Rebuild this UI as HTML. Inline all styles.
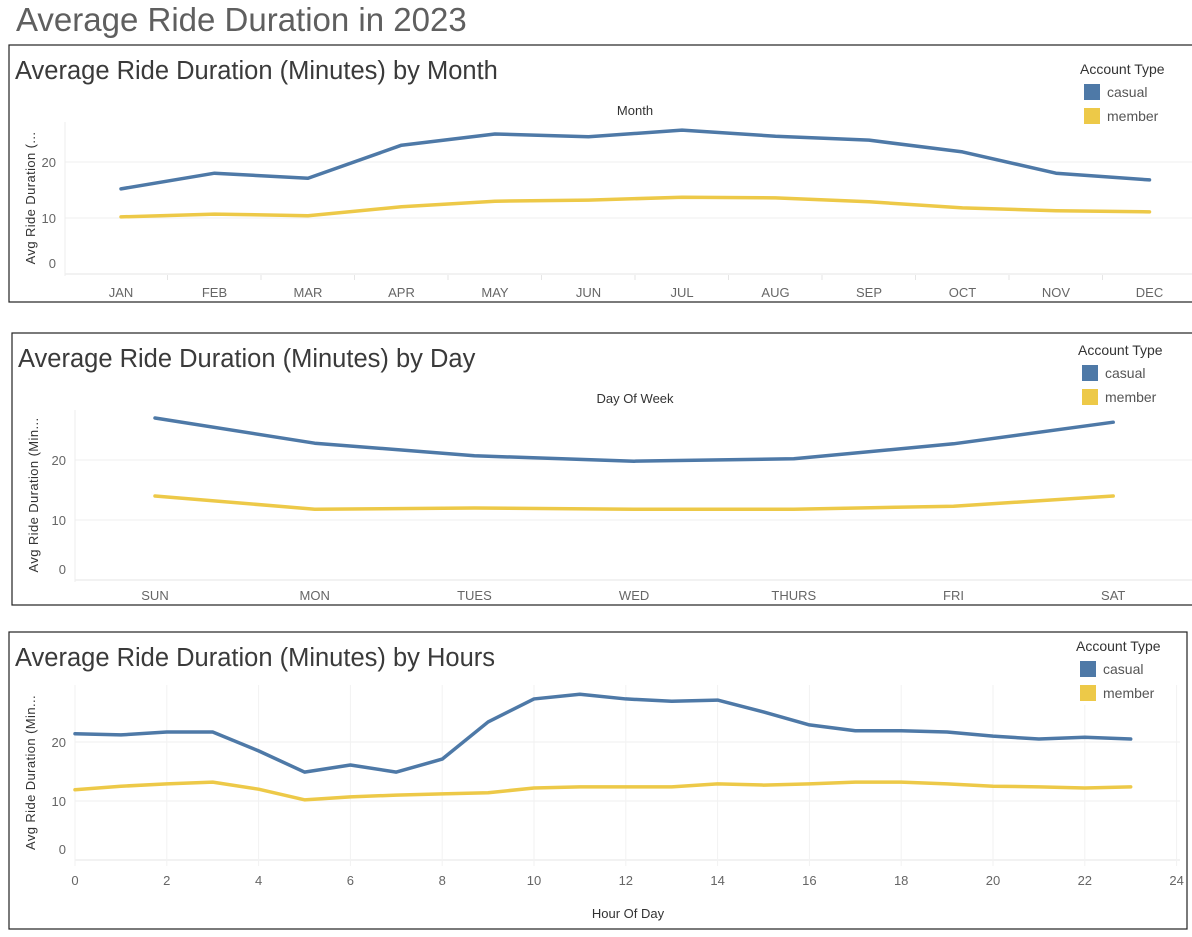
<!DOCTYPE html>
<html><head><meta charset="utf-8"><style>
html,body{margin:0;padding:0;background:#fff;width:1192px;height:937px;overflow:hidden}
svg{display:block;font-family:"Liberation Sans",sans-serif}
</style></head><body>
<svg id="s" width="1192" height="937">
<text x="16" y="31" font-size="33" fill="#5f5f5f">Average Ride Duration in 2023</text>
</svg>
<script>
const monthCats=["JAN","FEB","MAR","APR","MAY","JUN","JUL","AUG","SEP","OCT","NOV","DEC"];
const monthCasual=[15.2,18.0,17.1,23.0,25.0,24.5,25.7,24.6,23.9,21.8,18.0,16.8];
const monthMember=[10.2,10.7,10.4,12.0,13.0,13.2,13.7,13.6,12.9,11.8,11.3,11.1];
const dayCats=["SUN","MON","TUES","WED","THURS","FRI","SAT"];
const dayCasual=[27.0,22.8,20.7,19.8,20.2,22.7,26.3];
const dayMember=[14.0,11.8,12.0,11.8,11.8,12.3,14.0];
const hourCats=[0,1,2,3,4,5,6,7,8,9,10,11,12,13,14,15,16,17,18,19,20,21,22,23];
const hourCasual=[21.4,21.2,21.7,21.7,18.5,14.9,16.1,14.9,17.1,23.4,27.3,28.1,27.3,26.9,27.1,25.1,22.9,21.9,21.9,21.7,21.0,20.5,20.8,20.5];
const hourMember=[11.9,12.5,12.9,13.2,12.0,10.2,10.7,11.0,11.2,11.4,12.2,12.4,12.4,12.4,12.9,12.7,12.9,13.2,13.2,12.9,12.5,12.4,12.2,12.4];
const yTicks=[0,10,20];
const hourTicks=[0,2,4,6,8,10,12,14,16,18,20,22,24];

const NS="http://www.w3.org/2000/svg";
const svg=document.getElementById('s');
function mk(tag,attrs,parent,text){const e=document.createElementNS(NS,tag);for(const k in attrs)e.setAttribute(k,attrs[k]);if(text!==undefined)e.textContent=text;(parent||svg).appendChild(e);return e;}

function panel(cfg){
  const g=mk('g',{});
  
  
  const r=mk('rect',{x:cfg.bx,y:cfg.by,width:cfg.bw,height:cfg.bh,fill:'#fff',stroke:'#222','stroke-width':1.2},g);
  
  
  const t=mk('text',{x:cfg.bx+6,y:cfg.by+34,'font-size':25.5,fill:'#3a3a3a'},g,cfg.title);
  
  
  const y=v=>cfg.y0-v*cfg.ppu;
  yTicks.forEach(v=>{
    const gl=mk('line',{x1:cfg.px0,x2:cfg.px1,y1:y(v),y2:y(v),stroke:v===0?'#e6e6e6':'#efefef','stroke-width':1},g);
    
    
    const lab=mk('text',{x:cfg.px0-9,y:(v===0?y(v)-6:y(v)+5),'font-size':13,fill:'#666','text-anchor':'end'},g,String(v));
    
    
  });
  mk('line',{x1:cfg.px0,x2:cfg.px0,y1:cfg.ptop,y2:cfg.y0+2,stroke:'#eee'},g);
  const ya=mk('text',{transform:`translate(${cfg.bx+26},${(cfg.ptop+cfg.y0)/2}) rotate(-90)`,'font-size':13,fill:'#333','text-anchor':'middle','letter-spacing':'0.4'},g,cfg.ytitle);
  
  
  cfg.drawX(g,y);
  function line(vals,col,name){
    const pts=vals.map((v,i)=>cfg.x(i)+','+y(v)).join(' ');
    const p=mk('polyline',{points:pts,fill:'none',stroke:col,'stroke-width':3.5,'stroke-linejoin':'round','stroke-linecap':'round'},g);
    
    
  }
  line(cfg.member,'#edc948','line-member');
  line(cfg.casual,'#4e79a7','line-casual');
  // legend (drawn last, with white background)
  const lg=mk('g',{},g);
  
  
  mk('rect',{x:cfg.lx-4,y:cfg.ly+6,width:100,height:48,fill:'#fff'},lg);
  mk('text',{x:cfg.lx,y:cfg.ly,'font-size':14,fill:'#333'},lg,'Account Type');
  const l1=mk('rect',{x:cfg.lx+4,y:cfg.ly+10,width:16,height:16,fill:'#4e79a7'},lg);
  
  
  mk('text',{x:cfg.lx+27,y:cfg.ly+23,'font-size':14,fill:'#555'},lg,'casual');
  const l2=mk('rect',{x:cfg.lx+4,y:cfg.ly+34,width:16,height:16,fill:'#edc948'},lg);
  
  
  mk('text',{x:cfg.lx+27,y:cfg.ly+47,'font-size':14,fill:'#555'},lg,'member');
}

panel({name:'month-panel',bx:9,by:45,bw:1190,bh:257,title:'Average Ride Duration (Minutes) by Month',
  lx:1080,ly:74,px0:65,px1:1192,ptop:122,y0:274,ppu:5.6,ytitle:'Avg Ride Duration (...',
  x:i=>121+i*93.5,casual:monthCasual,member:monthMember,
  drawX:(g)=>{
    const t=mk('text',{x:635,y:115,'font-size':13,fill:'#333','text-anchor':'middle'},g,'Month');
    
    
    monthCats.forEach((c,i)=>{
      const l=mk('text',{x:121+i*93.5,y:297,'font-size':13,fill:'#666','text-anchor':'middle'},g,c);
      
      
      if(i>0) mk('line',{x1:74+i*93.5,x2:74+i*93.5,y1:275,y2:280,stroke:'#e6e6e6'},g);
    });
  }});

panel({name:'day-panel',bx:12,by:333,bw:1190,bh:272,title:'Average Ride Duration (Minutes) by Day',
  lx:1078,ly:355,px0:75,px1:1192,ptop:410,y0:580,ppu:6,ytitle:'Avg Ride Duration (Min...',
  x:i=>155+i*159.7,casual:dayCasual,member:dayMember,
  drawX:(g)=>{
    const t=mk('text',{x:635,y:403,'font-size':13,fill:'#333','text-anchor':'middle'},g,'Day Of Week');
    
    
    dayCats.forEach((c,i)=>{
      const l=mk('text',{x:155+i*159.7,y:600,'font-size':13,fill:'#666','text-anchor':'middle'},g,c);
      
      
    });
  }});

const hx=h=>75+h*45.9;
panel({name:'hour-panel',bx:9,by:632,bw:1178,bh:297,title:'Average Ride Duration (Minutes) by Hours',
  lx:1076,ly:651,px0:75,px1:1180,ptop:685,y0:860,ppu:5.9,ytitle:'Avg Ride Duration (Min...',
  x:i=>hx(hourCats[i]),casual:hourCasual,member:hourMember,
  drawX:(g)=>{
    hourTicks.forEach(h=>{
      const gl=mk('line',{x1:hx(h),x2:hx(h),y1:685,y2:866,stroke:'#f2f2f2'},g);
      
      
      const l=mk('text',{x:hx(h),y:885,'font-size':13,fill:'#666','text-anchor':'middle'},g,String(h));
      
      
    });
    const t=mk('text',{x:628,y:918,'font-size':13,fill:'#333','text-anchor':'middle'},g,'Hour Of Day');
    
    
  }});
</script>
</body></html>
